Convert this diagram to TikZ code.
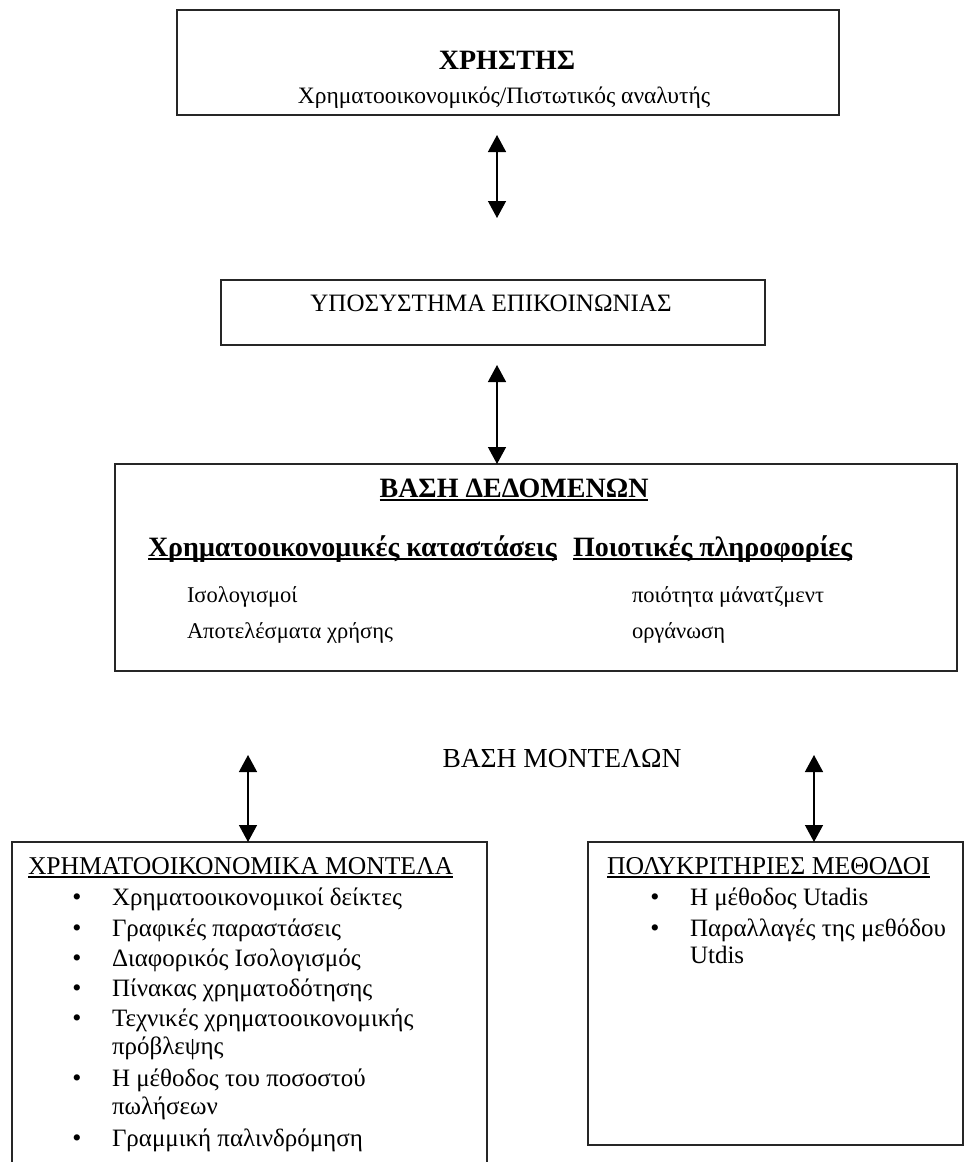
\documentclass[tikz,border=0pt]{standalone}
\usepackage{fontspec}
\setmainfont{Liberation Serif}
\usetikzlibrary{arrows.meta}
\newsavebox\ulbox
\newcommand\ulx[1]{\sbox\ulbox{#1}\rlap{\rule[-3.5pt]{\wd\ulbox}{1.6pt}}\usebox\ulbox}
\tikzset{
  frame/.style={draw=black!85, line width=1.6pt, inner sep=0pt, outer sep=0pt, anchor=north west},
  txt/.style={inner sep=0pt, outer sep=0pt, anchor=base west, font=\fontsize{25}{30}\selectfont},
  ctxt/.style={txt, anchor=base},
  small/.style={txt, font=\fontsize{22.5}{27}\selectfont},
  head/.style={txt, font=\fontsize{28}{32}\selectfont\bfseries},
  bul/.style={inner sep=0pt, outer sep=0pt, anchor=base, font=\fontsize{26}{30}\selectfont},
  dbl/.style={line width=1.4pt, {Triangle[width=18pt,length=17pt]}-{Triangle[width=18pt,length=17pt]}}
}
\begin{document}
\begin{tikzpicture}[x=1pt,y=-1pt]
\useasboundingbox (0,0) rectangle (968,1162);
\clip (0,0) rectangle (968,1162);
% boxes
\node[frame, minimum width=662pt, minimum height=105pt] (user) at (177,10) {};
\node[frame, minimum width=544pt, minimum height=65pt] (comm) at (221,280) {};
\node[frame, minimum width=842pt, minimum height=207pt] (db) at (115,464) {};
\node[frame, minimum width=475pt, minimum height=340pt] (fin) at (12,842) {};
\node[frame, minimum width=375pt, minimum height=303pt] (mcm) at (588,842) {};
% top box texts
\node[ctxt, font=\fontsize{28}{32}\selectfont\bfseries] (userT) at (507,69) {ΧΡΗΣΤΗΣ};
\node[txt, anchor=base, font=\fontsize{23.5}{27}\selectfont] (userS) at (504,103) {Χρηματοοικονομικός/Πιστωτικός αναλυτής};
% communication
\node[ctxt] (commT) at (491,311) {ΥΠΟΣΥΣΤΗΜΑ ΕΠΙΚΟΙΝΩΝΙΑΣ};
% database
\node[ctxt, font=\fontsize{28}{32}\selectfont\bfseries] (dbT) at (514,497) {\ulx{ΒΑΣΗ ΔΕΔΟΜΕΝΩΝ}};
\node[head] (dbH1) at (148,556) {\ulx{Χρηματοοικονομικές καταστάσεις}};
\node[head] (dbH2) at (573,556) {\ulx{Ποιοτικές πληροφορίες}};
\node[small] (dbA1) at (187,602) {Ισολογισμοί};
\node[small] (dbA2) at (187,638) {Αποτελέσματα χρήσης};
\node[small] (dbB1) at (632,602) {ποιότητα μάνατζμεντ};
\node[small] (dbB2) at (632,638) {οργάνωση};
% model base label
\node[ctxt, font=\fontsize{27.5}{32}\selectfont] (mb) at (562,767) {ΒΑΣΗ ΜΟΝΤΕΛΩΝ};
% financial models
\node[txt, font=\fontsize{25.6}{30}\selectfont] (finT) at (28,874) {\ulx{ΧΡΗΜΑΤΟΟΙΚΟΝΟΜΙΚΑ ΜΟΝΤΕΛΑ}};
\node[bul] (fb1) at (77,905) {•};
\node[txt] (f1) at (112,905) {Χρηματοοικονομικοί δείκτες};
\node[bul] (fb2) at (77,936) {•};
\node[txt] (f2) at (112,936) {Γραφικές παραστάσεις};
\node[bul] (fb3) at (77,966) {•};
\node[txt] (f3) at (112,966) {Διαφορικός Ισολογισμός};
\node[bul] (fb4) at (77,996) {•};
\node[txt] (f4) at (112,996) {Πίνακας χρηματοδότησης};
\node[bul] (fb5) at (77,1026) {•};
\node[txt] (f5) at (112,1026) {Τεχνικές χρηματοοικονομικής};
\node[txt] (f5b) at (112,1054) {πρόβλεψης};
\node[bul] (fb6) at (77,1086) {•};
\node[txt] (f6) at (112,1086) {Η μέθοδος του ποσοστού};
\node[txt] (f6b) at (112,1114) {πωλήσεων};
\node[bul] (fb7) at (77,1146) {•};
\node[txt] (f7) at (112,1146) {Γραμμική παλινδρόμηση};
% multicriteria
\node[txt, font=\fontsize{25.7}{30}\selectfont] (mcmT) at (607,874) {\ulx{ΠΟΛΥΚΡΙΤΗΡΙΕΣ ΜΕΘΟΔΟΙ}};
\node[bul] (mb1) at (655,905) {•};
\node[txt] (m1) at (690,905) {Η μέθοδος Utadis};
\node[bul] (mb2) at (655,936) {•};
\node[txt] (m2) at (690,936) {Παραλλαγές της μεθόδου};
\node[txt] (m2b) at (690,963) {Utdis};
% arrows
\coordinate (a1t) at (497,135);
\coordinate (a1b) at (497,218);
\coordinate (a2t) at (497,365);
\coordinate (a3t) at (248,755);
\coordinate (a4t) at (814,755);
\draw[dbl] (a1t) -- (a1b);
\draw[dbl] (a2t) -- (a2t |- db.north);
\draw[dbl] (a3t) -- (a3t |- fin.north);
\draw[dbl] (a4t) -- (a4t |- mcm.north);
\end{tikzpicture}
\end{document}
